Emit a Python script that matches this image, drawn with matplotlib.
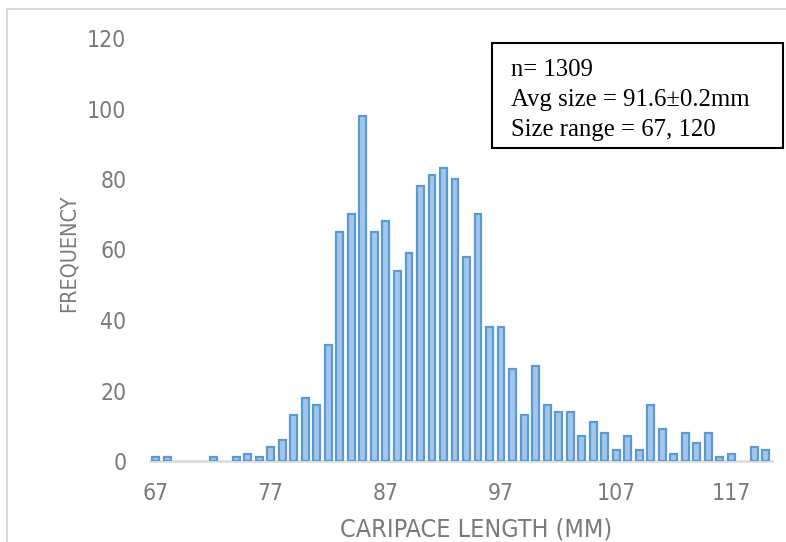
import numpy as np
import matplotlib.pyplot as plt
from matplotlib.patches import Rectangle

# Carapace length classes (mm) and number of individuals in each
lengths = np.arange(67, 121)
counts = [1, 1, 0, 0, 0, 1, 0, 1, 2, 1,
          4, 6, 13, 18, 16, 33, 65, 70, 98, 65,
          68, 54, 59, 78, 81, 83, 80, 58, 70, 38,
          38, 26, 13, 27, 16, 14, 14, 7, 11, 8,
          3, 7, 3, 16, 9, 2, 8, 5, 8, 1,
          2, 0, 4, 3]
xticks = [67, 77, 87, 97, 107, 117]
yticks = [0, 20, 40, 60, 80, 100, 120]
summary = ["n= 1309", "Avg size = 91.6\u00b10.2mm", "Size range = 67, 120"]

sans = ['DejaVu Sans']
grey = '#7a7a7a'

fig = plt.figure(figsize=(7.86, 5.42), dpi=100)
ax = fig.add_axes([150 / 786, 1 - 461 / 542, 621.5 / 786, 423 / 542])

# empty classes get no outline
edges = [1.6 if c else 0 for c in counts]
ax.bar(lengths, counts, width=0.6, color='#a4c6ea', edgecolor='#5b9bd5',
       linewidth=edges, zorder=3)

ax.set_xlim(66.5, 120.5)
ax.set_ylim(0, 120)
ax.set_xticks(xticks)
ax.set_yticks(yticks)
ax.tick_params(length=0, labelcolor=grey, labelsize=16.5)
ax.tick_params(axis='x', pad=15)
ax.tick_params(axis='y', pad=17)
for lab in ax.get_xticklabels() + ax.get_yticklabels():
    lab.set_family(sans)
    lab.set_stretch('condensed')

for side in ['top', 'right', 'left']:
    ax.spines[side].set_visible(False)
ax.spines['bottom'].set_color('#d9d9d9')
ax.spines['bottom'].set_linewidth(1.8)

ax.set_xlabel('CARIPACE LENGTH (MM)', fontsize=18, color=grey, family=sans,
              stretch='condensed', va='center')
ax.xaxis.set_label_coords(0.525, -69 / 423)
ax.set_ylabel('FREQUENCY', fontsize=15.5, color=grey, family=sans,
              stretch='condensed', va='center')
ax.yaxis.set_label_coords(-81 / 621.5, 0.49)

# chart area outline
fig.patches.append(Rectangle((7 / 786, -0.1), 1.2, 1.1 - 9 / 542,
                             transform=fig.transFigure, fill=False,
                             edgecolor='#d9d9d9', linewidth=1.5))

# summary statistics box
fig.patches.append(Rectangle((491.5 / 786, 1 - 148.3 / 542), 291 / 786,
                             105 / 542, transform=fig.transFigure,
                             facecolor='white', edgecolor='black',
                             linewidth=1.5, zorder=5))
for i, line in enumerate(summary):
    fig.text(511 / 786, 1 - (70 + 30 * i) / 542, line, fontsize=17.8,
             family=['Liberation Serif', 'DejaVu Serif'], va='center',
             ha='left', zorder=6)

fig.savefig('out.png', dpi=100)
